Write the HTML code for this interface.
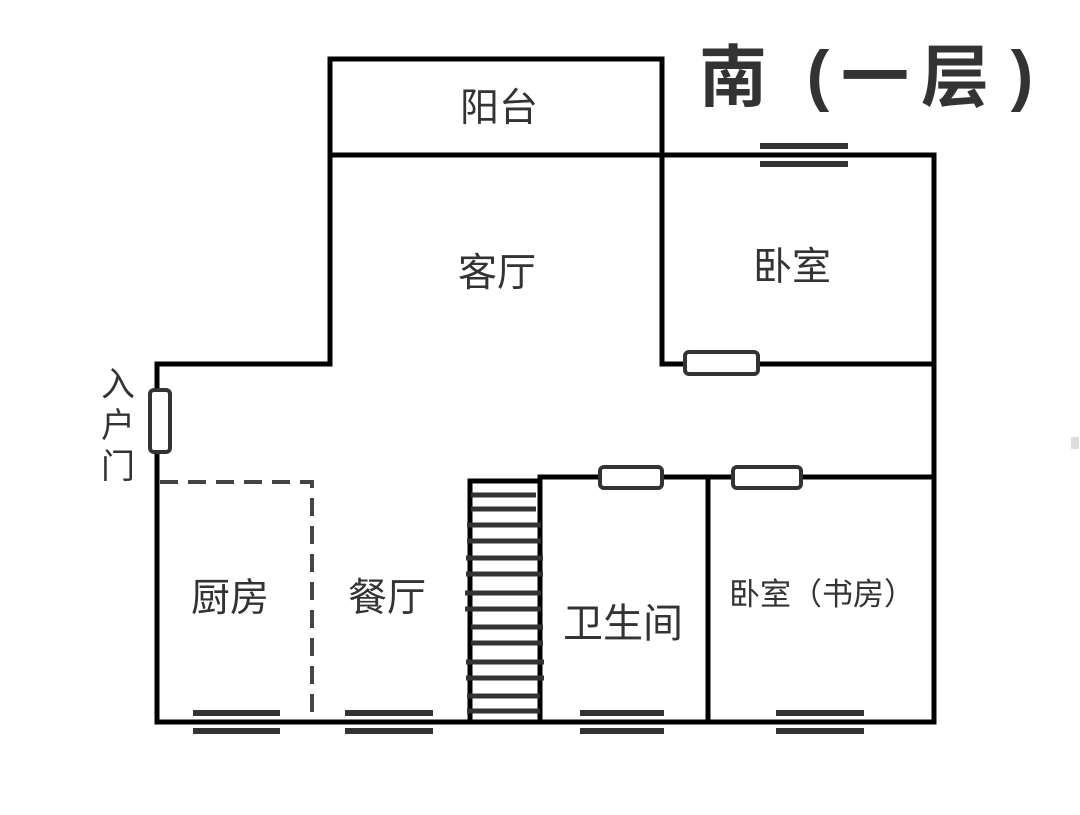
<!DOCTYPE html>
<html><head><meta charset="utf-8"><style>
body{margin:0;background:#fff;width:1080px;height:810px;overflow:hidden}
svg text{font-family:"Liberation Sans","Noto Sans CJK SC",sans-serif;fill:#333}
</style></head><body>
<svg width="1080" height="810" viewBox="0 0 1080 810">
<g stroke="#000" stroke-width="5" fill="none" stroke-linecap="square">
<rect x="330" y="59" width="332" height="96"/>
<polyline points="330,155 330,364 157,364 157,722 934,722 934,155 662,155 662,364 934,364"/>
<polyline points="540,722 540,477 934,477"/>
<line x1="708" y1="477" x2="708" y2="722"/>
<rect x="470" y="481" width="70" height="241"/>
</g>
<g stroke="#444" stroke-width="4" fill="none" stroke-dasharray="18,10">
<polyline points="160,482 312,482 312,720"/>
</g>
<g stroke="#333" stroke-width="5">
<line x1="471" y1="495" x2="536" y2="495"/><line x1="471" y1="509" x2="536" y2="509"/>
<line x1="467" y1="525" x2="541" y2="525"/><line x1="467" y1="541" x2="541" y2="541"/>
<line x1="466" y1="558" x2="543" y2="558"/><line x1="466" y1="574" x2="543" y2="574"/>
<line x1="465" y1="593" x2="541" y2="593"/><line x1="465" y1="609" x2="541" y2="609"/>
<line x1="471" y1="627" x2="543" y2="627"/><line x1="471" y1="643" x2="543" y2="643"/>
<line x1="466" y1="662" x2="544" y2="662"/><line x1="466" y1="678" x2="544" y2="678"/>
<line x1="467" y1="696" x2="540" y2="696"/><line x1="467" y1="711" x2="540" y2="711"/>
</g>
<g stroke="#333" stroke-width="6">
<line x1="760" y1="146" x2="848" y2="146"/><line x1="760" y1="164" x2="848" y2="164"/>
<line x1="193" y1="713" x2="280" y2="713"/><line x1="193" y1="731" x2="280" y2="731"/>
<line x1="345" y1="713" x2="433" y2="713"/><line x1="345" y1="731" x2="433" y2="731"/>
<line x1="580" y1="713" x2="664" y2="713"/><line x1="580" y1="731" x2="664" y2="731"/>
<line x1="776" y1="713" x2="864" y2="713"/><line x1="776" y1="731" x2="864" y2="731"/>
</g>
<g stroke="#333" stroke-width="4" fill="#fff">
<rect x="685" y="352" width="73" height="22" rx="4"/>
<rect x="600" y="467" width="62" height="21" rx="4"/>
<rect x="733" y="467" width="68" height="21" rx="4"/>
<rect x="150" y="390" width="20" height="62" rx="4"/>
</g>
<g font-size="39" text-anchor="middle">
<text x="499" y="121">阳台</text>
<text x="497" y="286">客厅</text>
<text x="792" y="280">卧室</text>
<text x="230" y="611">厨房</text>
<text x="387" y="611">餐厅</text>
<text x="623" y="637" font-size="40">卫生间</text>
<text x="822" y="605" font-size="31">卧室（书房）</text>
<text x="118" y="396" font-size="34">入</text>
<text x="118" y="437" font-size="34">户</text>
<text x="118" y="478" font-size="34">门</text>
</g>
<g font-size="68" font-weight="bold" text-anchor="middle" style="fill:#333">
<text x="733" y="101">南</text>
<text x="818" y="98">(</text>
<text x="875" y="101">一</text>
<text x="955" y="101">层</text>
<text x="1022" y="98">)</text>
</g>
<rect x="1071" y="437" width="8" height="12" fill="#ddd"/>
</svg>
</body></html>
